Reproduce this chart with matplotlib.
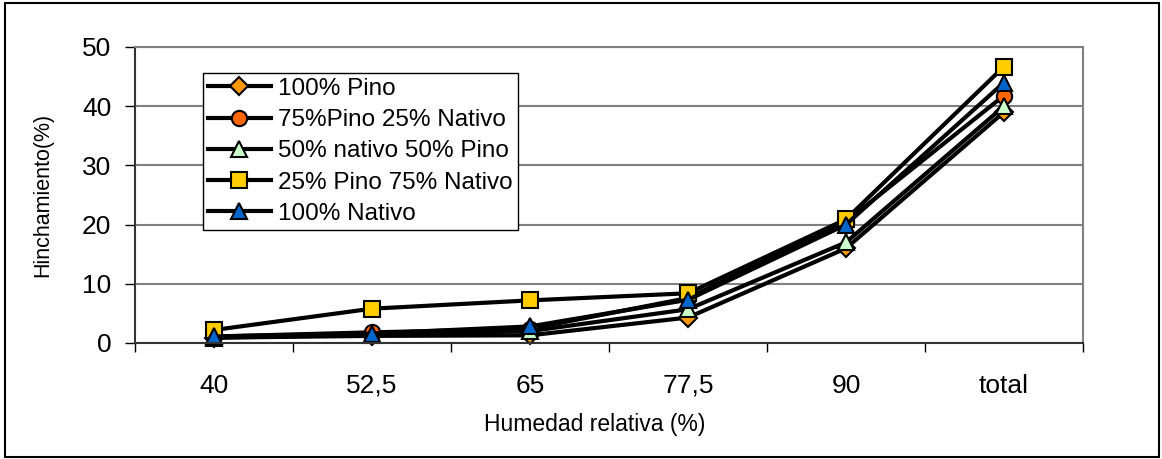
import matplotlib
matplotlib.use('Agg')
import matplotlib.pyplot as plt
import numpy as np

# Datos
categorias = ['40', '52,5', '65', '77,5', '90', 'total']
pino100 = [0.9, 1.2, 1.3, 4.3, 16.0, 39.0]
pino75 = [1.1, 1.8, 2.4, 7.6, 20.5, 41.8]
nativo50 = [0.9, 1.4, 2.0, 5.7, 17.0, 40.0]
pino25 = [2.2, 5.8, 7.2, 8.4, 20.9, 46.7]
nativo100 = [1.1, 1.6, 2.8, 7.3, 20.0, 44.0]

series = [
    ('100% Pino', pino100, 'D', '#FF9900', 9),
    ('75%Pino 25% Nativo', pino75, 'o', '#FF6600', 11),
    ('50% nativo 50% Pino', nativo50, '^', '#CCFFCC', 12),
    ('25% Pino 75% Nativo', pino25, 's', '#FFCC00', 11),
    ('100% Nativo', nativo100, '^', '#0066CC', 12),
]

plt.rcParams['font.family'] = ['Liberation Sans', 'DejaVu Sans']

fig = plt.figure(figsize=(11.62, 4.59), dpi=100)
W, H = 1162, 459
ax = fig.add_axes([135 / W, 1 - 343 / H, (1083 - 135) / W, (343 - 47) / H])

x = np.arange(len(categorias))
for nombre, valores, marcador, color, tam in series:
    ax.plot(x, valores, color='black', lw=3, marker=marcador, markersize=tam,
            markerfacecolor=color, markeredgecolor='black', markeredgewidth=1.5,
            label=nombre, clip_on=False)

ax.set_xlim(-0.5, len(categorias) - 0.5)
ax.set_ylim(0, 50)
ax.set_yticks([0, 10, 20, 30, 40, 50])
ax.set_xticks(x)
ax.set_xticklabels(categorias)
ax.set_xticks(np.arange(len(categorias) + 1) - 0.5, minor=True)
ax.tick_params(axis='x', which='major', length=0, labelsize=19, pad=22)
ax.tick_params(axis='x', which='minor', length=6.5, width=1, direction='out')
ax.tick_params(axis='y', length=7, width=1, direction='out', labelsize=19, pad=10)

ax.grid(axis='y', color='#808080', lw=1.5)
ax.set_axisbelow(True)
for lado in ['top', 'right']:
    ax.spines[lado].set_color('#808080')
    ax.spines[lado].set_linewidth(1.5)
for lado in ['left', 'bottom']:
    ax.spines[lado].set_color('#333333')
    ax.spines[lado].set_linewidth(1.5)

ax.set_xlabel('Humedad relativa (%)', fontsize=16.5)
ax.set_ylabel('Hinchamiento(%)', fontsize=15.5)
ax.xaxis.set_label_coords((595 - 135) / 948, (343 - 413) / 296)
ax.yaxis.set_label_coords((53 - 135) / 948, 0.5)

leg = ax.legend(loc='upper left', bbox_to_anchor=(203 / W, 1 - 73 / H),
                bbox_transform=fig.transFigure, fontsize=17.5, frameon=True,
                fancybox=False, edgecolor='black', framealpha=1,
                handlelength=2.6, borderpad=0.2, labelspacing=0.38,
                handletextpad=0.3, borderaxespad=0)
leg.get_frame().set_linewidth(1)

# Marco exterior
fig.patches.append(plt.Rectangle((5 / W, 2 / H), 1154 / W, 454 / H,
                                 transform=fig.transFigure, fill=False,
                                 edgecolor='black', lw=1.5))

fig.savefig('out.png', dpi=100)
